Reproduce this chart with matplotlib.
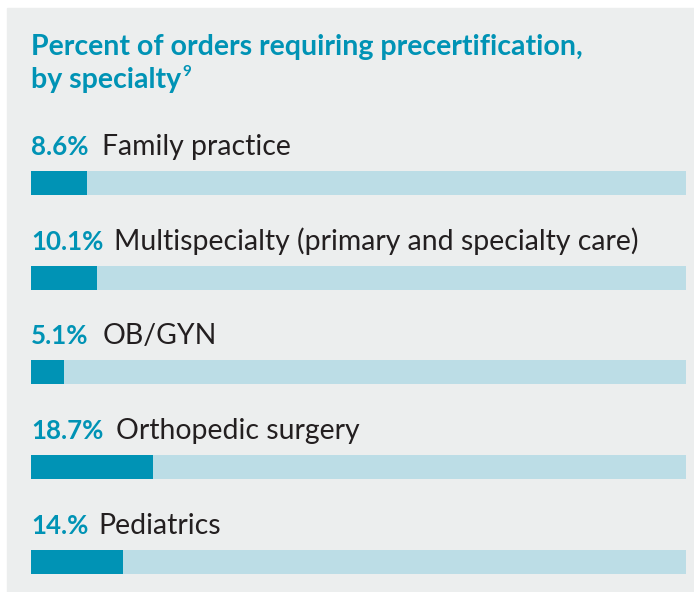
import matplotlib
matplotlib.use('Agg')
import matplotlib.pyplot as plt

specialties = ['Family practice', 'Multispecialty (primary and specialty care)',
               'OB/GYN', 'Orthopedic surgery', 'Pediatrics']
values = [8.6, 10.1, 5.1, 18.7, 14.0]
value_labels = ['8.6%', '10.1%', '5.1%', '18.7%', '14.%']
gaps_px = [13, 11, 14, 13, 10]

teal = '#0093b5'
light = '#bcdde6'
bg = '#eceeee'
dark = '#231f20'

W, H = 694, 592
fig = plt.figure(figsize=(W / 100, H / 100), dpi=100)
fig.patch.set_facecolor('white')
fig.patches.append(plt.Rectangle((7 / W, 0), 1 - 7 / W, 1 - 8 / H,
                                 transform=fig.transFigure, color=bg, zorder=-10))

# bar area: centers at 183 .. 562 px from top, 94.75 px apart
unit = 94.75
top_px = 183 - 0.75 * unit
bot_px = 562 + 0.25 * unit
ax = fig.add_axes([31 / W, 1 - bot_px / H, 655 / W, (bot_px - top_px) / H])
ax.set_xlim(0, 100)
ax.set_ylim(4.25, -0.75)
ax.axis('off')

ys = range(len(values))
bh = 24 / unit
ax.barh(ys, [100] * len(values), height=bh, color=light)
ax.barh(ys, values, height=bh, color=teal)

plt.rcParams['font.family'] = ['Lato', 'DejaVu Sans']

fig.text(31 / W, 1 - 55 / H, 'Percent of orders requiring precertification,',
         fontsize=20.5, fontweight='bold', color=teal, va='baseline')
t2 = fig.text(31 / W, 1 - 88 / H, 'by specialty',
              fontsize=20.5, fontweight='bold', color=teal, va='baseline')

fig.canvas.draw()
r = fig.canvas.get_renderer()
bb = t2.get_window_extent(r)
fig.text(bb.x1 / W + 1 / W, 1 - 76 / H, '9', fontsize=11, fontweight='bold',
         color=teal, va='baseline')

blend = matplotlib.transforms.blended_transform_factory(fig.transFigure, ax.transData)
for i, (lab, name, gap) in enumerate(zip(value_labels, specialties, gaps_px)):
    base = i - 28 / unit
    t = ax.text(0, base, lab, fontsize=18.6, fontweight='bold', color=teal,
                va='baseline', ha='left', clip_on=False)
    ext = t.get_window_extent(r)
    fig.text((ext.x1 + gap) / W, base, name, fontsize=20.4, color=dark,
             va='baseline', transform=blend)

fig.savefig('out.png', dpi=100)
